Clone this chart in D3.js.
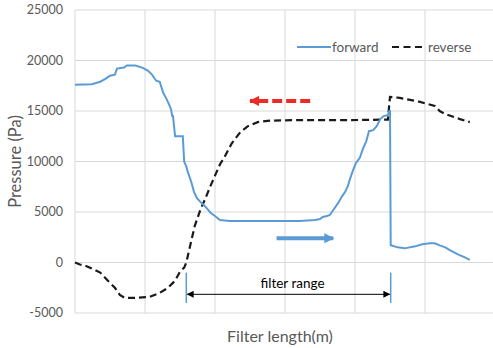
<!DOCTYPE html>
<html lang="en">
<head>
<meta charset="UTF-8">
<title>Pressure vs filter length</title>
<script src="https://cdn.jsdelivr.net/npm/d3@7/dist/d3.min.js"></script>
<style>
  body { margin: 0; padding: 0; background: #fff; overflow: hidden; }
  text { font-family: Lato, "Open Sans", sans-serif; }
  .grid line { stroke: #d9d9d9; stroke-width: 1; }
  .tick-label { fill: #595959; font-size: 12.5px; }
</style>
</head>
<body>
<div id="chart"></div>
<script>
// filter length (grid units) and pressure (Pa)
const forwardX = [0, 0.24, 0.36, 0.44, 0.5, 0.57, 0.6, 0.7, 0.74, 0.86, 0.96, 1.04, 1.1, 1.16, 1.21, 1.26, 1.3, 1.34, 1.37, 1.39, 1.4, 1.43, 1.54, 1.56, 1.59, 1.61, 1.66, 1.7, 1.74, 1.79, 1.84, 1.89, 1.94, 2.0, 2.07, 2.21, 2.64, 3.21, 3.43, 3.5, 3.54, 3.6, 3.64, 3.69, 3.76, 3.81, 3.86, 3.9, 3.93, 3.97, 4.01, 4.07, 4.11, 4.16, 4.2, 4.26, 4.31, 4.36, 4.41, 4.47, 4.49, 4.5, 4.51, 4.61, 4.71, 4.86, 4.96, 5.07, 5.14, 5.21, 5.29, 5.36, 5.47, 5.57, 5.64];
const forwardY = [17600, 17650, 17900, 18200, 18500, 18600, 19200, 19300, 19500, 19500, 19300, 19000, 18600, 18000, 17900, 16800, 16300, 15700, 15200, 14500, 14500, 12500, 12500, 10000, 9500, 9000, 8000, 7000, 6400, 6000, 5700, 5300, 4900, 4600, 4200, 4100, 4100, 4100, 4200, 4300, 4500, 4600, 4700, 5200, 5900, 6500, 7000, 7600, 8300, 9100, 9800, 10400, 11200, 12000, 13000, 13100, 13500, 14200, 14500, 14600, 15000, 15000, 1700, 1500, 1400, 1600, 1800, 1900, 1900, 1700, 1500, 1200, 800, 500, 250];

const reverseX = [0, 0.07, 0.14, 0.24, 0.36, 0.47, 0.57, 0.64, 0.71, 0.86, 1.07, 1.21, 1.33, 1.43, 1.5, 1.56, 1.59, 1.64, 1.71, 1.79, 1.86, 1.93, 2.0, 2.07, 2.14, 2.24, 2.36, 2.47, 2.61, 2.79, 3.21, 3.93, 4.47, 4.5, 4.64, 4.93, 5.14, 5.21, 5.29, 5.5, 5.64];
const reverseY = [0, -200, -300, -600, -1000, -1800, -2500, -3200, -3500, -3500, -3400, -3000, -2500, -1800, -900, -500, 0, 1500, 3600, 5200, 6300, 7500, 8600, 9700, 10500, 11800, 12900, 13500, 13900, 14050, 14100, 14100, 14150, 16400, 16300, 15900, 15500, 15000, 14700, 14200, 13900];

const yTicks = [-5000, 0, 5000, 10000, 15000, 20000, 25000];
const xGrid = [0, 1, 2, 3, 4, 5, 6];
const filterStart = 1.59, filterEnd = 4.51;

const width = 493, height = 348;
const margin = { top: 10, right: -2, bottom: 35, left: 75 };

const x = d3.scaleLinear().domain([0, 6]).range([margin.left, width - margin.right]);
const y = d3.scaleLinear().domain([-5000, 25000]).range([height - margin.bottom, margin.top]);

const svg = d3.select('#chart').append('svg')
  .attr('width', width)
  .attr('height', height);

const defs = svg.append('defs');
function marker(id, color, w, h) {
  defs.append('marker')
    .attr('id', id)
    .attr('viewBox', '0 0 10 10')
    .attr('refX', 9).attr('refY', 5)
    .attr('markerWidth', w).attr('markerHeight', h)
    .attr('markerUnits', 'userSpaceOnUse')
    .attr('orient', 'auto-start-reverse')
    .append('path')
    .attr('d', 'M0,0L10,5L0,10z')
    .attr('fill', color);
}
marker('arrBlack', '#000', 9, 7);
marker('arrRed', '#ee2a24', 10, 10);
marker('arrBlue', '#5b9bd5', 12, 10);

// gridlines
const grid = svg.append('g').attr('class', 'grid');
grid.selectAll('.h').data(yTicks).enter().append('line')
  .attr('x1', x(0)).attr('x2', width)
  .attr('y1', d => y(d)).attr('y2', d => y(d));
grid.selectAll('.v').data(xGrid).enter().append('line')
  .attr('x1', d => x(d)).attr('x2', d => x(d))
  .attr('y1', y(25000)).attr('y2', y(-5000));

// y tick labels
svg.append('g').selectAll('text').data(yTicks).enter().append('text')
  .attr('class', 'tick-label')
  .attr('x', 63)
  .attr('y', d => y(d) + 4)
  .attr('text-anchor', 'end')
  .text(d => d);

// axis titles
svg.append('text')
  .attr('transform', `translate(21,${(y(25000) + y(-5000)) / 2}) rotate(-90)`)
  .attr('text-anchor', 'middle')
  .attr('fill', '#595959')
  .attr('font-size', 16.5)
  .text('Pressure (Pa)');
svg.append('text')
  .attr('x', 280).attr('y', 342)
  .attr('text-anchor', 'middle')
  .attr('fill', '#595959')
  .attr('font-size', 16)
  .text('Filter length(m)');

const line = d3.line().x(d => x(d[0])).y(d => y(d[1]));

svg.append('path')
  .datum(reverseX.map((v, i) => [v, reverseY[i]]))
  .attr('d', line)
  .attr('fill', 'none')
  .attr('stroke', '#1a1a1a')
  .attr('stroke-width', 2.2)
  .attr('stroke-dasharray', '7,4');

svg.append('path')
  .datum(forwardX.map((v, i) => [v, forwardY[i]]))
  .attr('d', line)
  .attr('fill', 'none')
  .attr('stroke', '#5b9bd5')
  .attr('stroke-width', 2);

// direction arrows
svg.append('line')
  .attr('x1', x(3.36)).attr('x2', x(2.5))
  .attr('y1', y(16000)).attr('y2', y(16000))
  .attr('stroke', '#ee2a24').attr('stroke-width', 4)
  .attr('stroke-dasharray', '10,4')
  .attr('marker-end', 'url(#arrRed)');
svg.append('line')
  .attr('x1', x(2.88)).attr('x2', x(3.69))
  .attr('y1', y(2400)).attr('y2', y(2400))
  .attr('stroke', '#5b9bd5').attr('stroke-width', 4)
  .attr('marker-end', 'url(#arrBlue)');

// filter range
svg.selectAll('.fr').data([filterStart, filterEnd]).enter().append('line')
  .attr('x1', d => x(d)).attr('x2', d => x(d))
  .attr('y1', y(-1000)).attr('y2', y(-4000))
  .attr('stroke', '#5b9bd5').attr('stroke-width', 1.5);
svg.append('line')
  .attr('x1', x(filterStart) + 1).attr('x2', x(filterEnd) - 1)
  .attr('y1', y(-3150)).attr('y2', y(-3150))
  .attr('stroke', '#000').attr('stroke-width', 1)
  .attr('marker-start', 'url(#arrBlack)')
  .attr('marker-end', 'url(#arrBlack)');
svg.append('text')
  .attr('x', (x(filterStart) + x(filterEnd)) / 2 + 4)
  .attr('y', y(-2500))
  .attr('text-anchor', 'middle')
  .attr('font-size', 13.5)
  .attr('fill', '#000')
  .text('filter range');

// legend
const legend = svg.append('g');
legend.append('line')
  .attr('x1', 297).attr('x2', 331).attr('y1', 47).attr('y2', 47)
  .attr('stroke', '#5b9bd5').attr('stroke-width', 2);
legend.append('text')
  .attr('x', 332).attr('y', 51.5)
  .attr('fill', '#595959').attr('font-size', 13.5)
  .text('forward');
legend.append('line')
  .attr('x1', 392).attr('x2', 426).attr('y1', 47).attr('y2', 47)
  .attr('stroke', '#1a1a1a').attr('stroke-width', 2.2)
  .attr('stroke-dasharray', '7,4.5');
legend.append('text')
  .attr('x', 428).attr('y', 51.5)
  .attr('fill', '#595959').attr('font-size', 13.5)
  .text('reverse');
</script>
</body>
</html>
